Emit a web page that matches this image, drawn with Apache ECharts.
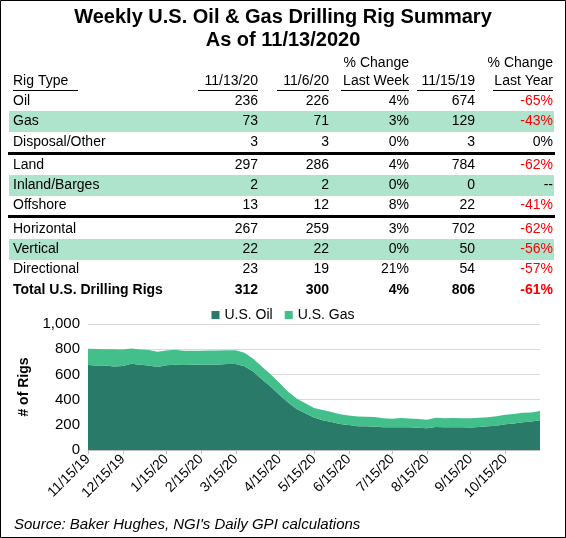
<!DOCTYPE html>
<html><head><meta charset="utf-8">
<script src="https://cdn.jsdelivr.net/npm/echarts@6/dist/echarts.min.js"></script>
<style>html,body{margin:0;padding:0;background:#fff}#c{width:566px;height:538px}</style>
</head><body><div id="c"></div>
<script>
const titleLines = ['Weekly U.S. Oil & Gas Drilling Rig Summary', 'As of 11/13/2020'];
const headerTop = ['', '', '', '% Change', '', '% Change'];
const headerBottom = ['Rig Type', '11/13/20', '11/6/20', 'Last Week', '11/15/19', 'Last Year'];
const rigTypes = ['Oil','Gas','Disposal/Other','Land','Inland/Barges','Offshore','Horizontal','Vertical','Directional','Total U.S. Drilling Rigs'];
const col1113 = [236,73,3,297,2,13,267,22,23,312];
const col116 = [226,71,3,286,2,12,259,22,19,300];
const chgWeek = ['4%','3%','0%','4%','0%','8%','3%','0%','21%','4%'];
const col1115 = [674,129,3,784,0,22,702,50,54,806];
const chgYear = ['-65%','-43%','0%','-62%','--','-41%','-62%','-56%','-57%','-61%'];
const yTicks = [0,200,400,600,800,1000];
const oil = [674,671,671,663,667,685,677,670,659,673,676,675,676,678,678,679,682,683,664,624,562,504,438,378,325,292,258,237,222,206,199,189,188,185,181,180,181,180,176,172,183,180,181,180,179,183,189,193,205,211,221,226,236];
const gas = [129,130,129,136,131,120,120,124,120,117,120,112,112,110,112,110,110,108,107,100,100,98,95,87,83,80,75,80,79,77,74,77,76,76,71,69,72,70,70,68,72,72,72,72,72,72,71,75,75,75,75,71,73];
const dates = [];
{ const d0 = new Date(Date.UTC(2019,10,15)); for (let i=0;i<oil.length;i++){ const d=new Date(d0.getTime()+i*7*864e5); dates.push((d.getUTCMonth()+1)+'/'+d.getUTCDate()+'/'+String(d.getUTCFullYear()).slice(2)); } }
const isLabel = (i) => { if (i>=dates.length-1) return false; const day = +dates[i].split('/')[1]; return day>=12 && day<=18; };
const fmtLabel = (v) => { const p=v.split('/'); return p[0]+'/15/'+p[2]; };

const F = 'Liberation Sans, Arial, sans-serif';
const rowY = [101,121,142,165,185,205,229,249,269,290];
const colRight = [258,329,409,475,553];
const g = [];
g.push({type:'rect',shape:{x:0.5,y:0.5,width:565,height:537},style:{fill:'none',stroke:'#000',lineWidth:1}});
titleLines.forEach((t,i)=>g.push({type:'text',x:283,y:17+i*23,style:{text:t,font:'bold 20px '+F,fill:'#000',align:'center',verticalAlign:'middle'}}));
[1,4,7].forEach(r=>g.push({type:'rect',shape:{x:9,y:rowY[r]-10,width:545,height:21},style:{fill:'#aee3cc'}}));
[153.5,216.5].forEach(y=>g.push({type:'line',shape:{x1:8,y1:y,x2:555,y2:y},style:{stroke:'#000',lineWidth:3}}));
headerTop.forEach((t,i)=>{ if(t) g.push({type:'text',x:colRight[i-1],y:63,style:{text:t,font:'14px '+F,fill:'#000',align:'right',verticalAlign:'middle'}}); });
headerBottom.forEach((t,i)=>{
  const x = i===0?13:colRight[i-1];
  g.push({type:'text',x:x,y:81,style:{text:t,font:'14px '+F,fill:'#000',align:i===0?'left':'right',verticalAlign:'middle'}});
});
const hw = [65,60,52,68,58,60];
headerBottom.forEach((t,i)=>{
  const x2 = i===0?13+hw[0]:colRight[i-1]; const x1 = i===0?13:x2-hw[i];
  g.push({type:'line',shape:{x1:x1,y1:90.5,x2:x2,y2:90.5},style:{stroke:'#000',lineWidth:1}});
});
rigTypes.forEach((t,r)=>{
  const bold = r===9; const f=(bold?'bold ':'')+'14px '+F;
  const vals=[col1113[r],col116[r],chgWeek[r],col1115[r],chgYear[r]];
  g.push({type:'text',x:13,y:rowY[r],style:{text:t,font:f,fill:'#000',verticalAlign:'middle'}});
  vals.forEach((v,c)=>g.push({type:'text',x:colRight[c],y:rowY[r],style:{text:String(v),font:f,fill:(c===4&&String(v).startsWith('-')&&v!=='--')?'#ff0000':'#000',align:'right',verticalAlign:'middle'}}));
});
g.push({type:'text',x:14,y:525,style:{text:"Source: Baker Hughes, NGI's Daily GPI calculations",font:'italic 15px '+F,fill:'#000',verticalAlign:'middle'}});

const chart = echarts.init(document.getElementById('c'));
chart.setOption({
  animation:false,
  textStyle:{fontFamily:F},
  graphic:g,
  legend:{top:303,left:'center',itemWidth:8,itemHeight:8,itemGap:12,icon:'rect',textStyle:{fontSize:14,color:'#000',fontFamily:F},data:['U.S. Oil','U.S. Gas']},
  grid:{left:88,right:26,top:324,bottom:88,containLabel:false},
  xAxis:{type:'category',data:dates,boundaryGap:false,
    axisLine:{lineStyle:{color:'#bfbfbf'}},
    axisTick:{show:true,interval:(i)=>isLabel(i),length:4,lineStyle:{color:'#bfbfbf'}},
    axisLabel:{interval:(i)=>isLabel(i),rotate:45,formatter:fmtLabel,color:'#000',fontSize:14,fontFamily:F,margin:7}},
  yAxis:{type:'value',min:0,max:1000,interval:200,
    name:'# of Rigs',nameLocation:'middle',nameGap:55,nameRotate:90,nameTextStyle:{fontWeight:'bold',fontSize:14,color:'#000',fontFamily:F},
    axisLabel:{color:'#000',fontSize:15,fontFamily:F,formatter:(v)=>v.toLocaleString('en-US')},
    splitLine:{lineStyle:{color:'#d9d9d9'}},axisLine:{show:false},axisTick:{show:false}},
  series:[
    {name:'U.S. Oil',type:'line',stack:'t',data:oil,symbol:'none',lineStyle:{width:0},areaStyle:{color:'#2a7a69',opacity:1},itemStyle:{color:'#2a7a69'}},
    {name:'U.S. Gas',type:'line',stack:'t',data:gas,symbol:'none',lineStyle:{width:0},areaStyle:{color:'#43bf8c',opacity:1},itemStyle:{color:'#43bf8c'}}
  ]
});
</script></body></html>
